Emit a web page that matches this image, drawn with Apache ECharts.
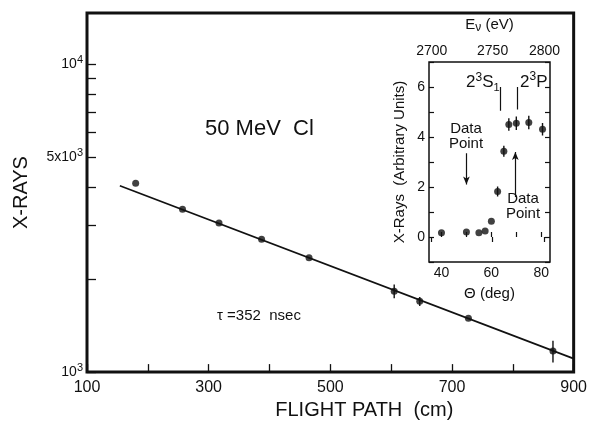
<!DOCTYPE html>
<html>
<head>
<meta charset="utf-8">
<script src="https://cdn.jsdelivr.net/npm/echarts@6/dist/echarts.min.js"></script>
<style>
html, body { margin: 0; padding: 0; background: #fff; }
#main { width: 590px; height: 425px; }
</style>
</head>
<body>
<div id="main"></div>
<script>
// decay curve (main plot)
var flightPath = [180, 257, 317, 387, 465, 605, 647, 727, 866];
var xRays = [4110, 3383, 3054, 2705, 2355, 1833, 1698, 1496, 1170];
var xRaysErr = [0, 0, 0, 0, 0, 95, 57, 0, 95];
var fitPath = [154, 900];
var fitXRays = [4036, 1106];
var countTicks = [1000, 2000, 3000, 4000, 5000, 6000, 7000, 8000, 9000, 10000];
var countLabelValues = [1000, 5000, 10000];
var countLabelText = ['{b|10}{s|3}', '{b|5x10}{s|3}', '{b|10}{s|4}'];

// angular scan (inset)
var theta = [40, 50, 55, 57.5, 60, 62.5, 65, 67, 70, 75, 80.5];
var intensity = [0.17, 0.2, 0.17, 0.24, 0.63, 1.82, 3.43, 4.5, 4.55, 4.58, 4.31];
var intensityErr = [0, 0, 0, 0, 0, 0.2, 0.22, 0.25, 0.27, 0.27, 0.25];
var thetaTicks = [40, 50, 60, 70, 80];
var thetaLabels = [40, 60, 80];
var energyLabels = ['2700', '2750', '2800'];
var energyAtTheta = [36.1, 60.5, 81.3];

var FONT = 'Liberation Sans, Arial, sans-serif';
var INK = '#111';

// superscript styles for rich text
var supRich = {
    b: { fontSize: 14, color: INK, fontFamily: FONT },
    s: { fontSize: 11, color: INK, fontFamily: FONT, verticalAlign: 'bottom', padding: [0, 0, 9, 0] }
};

function pairs(xs, ys) {
    return xs.map(function (x, i) { return [x, ys[i]]; });
}
function errPoints(xs, ys, es) {
    var out = [];
    xs.forEach(function (x, i) {
        if (es[i] > 0) out.push([x, ys[i], es[i]]);
    });
    return out;
}
function errorBar(params, api) {
    var x = api.value(0), y = api.value(1), e = api.value(2);
    var lo = api.coord([x, y - e]);
    var hi = api.coord([x, y + e]);
    return {
        type: 'line',
        shape: { x1: lo[0], y1: lo[1], x2: hi[0], y2: hi[1] },
        style: { stroke: INK, lineWidth: 1.4 }
    };
}

var chart = echarts.init(document.getElementById('main'), null, { renderer: 'canvas' });

var option = {
    backgroundColor: '#fff',
    animation: false,
    textStyle: { fontFamily: FONT, color: INK },
    grid: [
        { left: 87, right: 7, top: 13, bottom: 47, show: true, borderColor: INK, borderWidth: 3 },
        { left: 429, right: 40, top: 62, bottom: 163, show: true, borderColor: INK, borderWidth: 1.5, backgroundColor: '#fff' }
    ],
    xAxis: [
        {
            gridIndex: 0, type: 'value', min: 100, max: 900, interval: 100,
            name: 'FLIGHT PATH  (cm)', nameLocation: 'middle', nameGap: 27,
            nameTextStyle: { fontSize: 20, color: INK, padding: [0, 0, 0, 68] },
            axisLine: { show: false },
            axisTick: { inside: true, length: 8, lineStyle: { color: INK, width: 1.3 } },
            axisLabel: {
                fontSize: 16, color: INK, margin: 7,
                formatter: function (v) { return (v - 100) % 200 === 0 ? String(v) : ''; }
            },
            splitLine: { show: false }
        },
        {
            gridIndex: 1, type: 'value', min: 35, max: 83.5, position: 'bottom',
            name: 'Θ (deg)', nameLocation: 'middle', nameGap: 24,
            nameTextStyle: { fontSize: 15, color: INK },
            axisLine: { show: false },
            axisTick: { inside: true, length: 5, customValues: thetaTicks, lineStyle: { color: INK, width: 1.2 } },
            axisLabel: { fontSize: 14, color: INK, margin: 4, customValues: thetaLabels },
            splitLine: { show: false }
        },
        {
            gridIndex: 1, type: 'value', min: 35, max: 83.5, position: 'top',
            name: '{e|E}{s|ν} (eV)', nameLocation: 'middle', nameGap: 28,
            nameTextStyle: {
                fontSize: 15, color: INK,
                rich: { e: { fontSize: 15, color: INK }, s: { fontSize: 12, color: INK, verticalAlign: 'bottom', padding: [6, 0, 0, 0] } }
            },
            axisLine: { show: false },
            axisTick: { inside: true, length: 5, customValues: energyAtTheta, lineStyle: { color: INK, width: 1.2 } },
            axisLabel: {
                fontSize: 14, color: INK, margin: 4, customValues: energyAtTheta,
                formatter: function (v) {
                    var i = energyAtTheta.indexOf(v);
                    return i >= 0 ? energyLabels[i] : '';
                }
            },
            splitLine: { show: false }
        }
    ],
    yAxis: [
        {
            gridIndex: 0, type: 'log', logBase: 10, min: 1000, max: 14700,
            name: 'X-RAYS', nameLocation: 'middle', nameGap: 56,
            nameTextStyle: { fontSize: 20, color: INK },
            axisLine: { show: false },
            axisTick: { inside: true, length: 9, customValues: countTicks, lineStyle: { color: INK, width: 1.3 } },
            axisLabel: {
                color: INK, margin: 4, customValues: countLabelValues, rich: supRich,
                formatter: function (v) {
                    var i = countLabelValues.indexOf(Math.round(v));
                    return i >= 0 ? countLabelText[i] : '';
                }
            },
            splitLine: { show: false }
        },
        {
            gridIndex: 1, type: 'value', min: -1, max: 7, interval: 1, position: 'left',
            name: 'X-Rays  (Arbitrary Units)', nameLocation: 'middle', nameGap: 22,
            nameTextStyle: { fontSize: 15, color: INK },
            axisLine: { show: false },
            axisTick: { inside: true, length: 5, lineStyle: { color: INK, width: 1.2 } },
            axisLabel: {
                fontSize: 14, color: INK, margin: 4,
                formatter: function (v) { return (v >= 0 && v % 2 === 0) ? String(v) : ''; }
            },
            splitLine: { show: false }
        },
        {
            gridIndex: 1, type: 'value', min: -1, max: 7, interval: 1, position: 'right',
            axisLine: { show: false },
            axisTick: { inside: true, length: 5, lineStyle: { color: INK, width: 1.2 } },
            axisLabel: { show: false },
            splitLine: { show: false }
        }
    ],
    series: [
        {
            type: 'line', xAxisIndex: 0, yAxisIndex: 0,
            data: pairs(fitPath, fitXRays),
            showSymbol: false, silent: true,
            lineStyle: { color: INK, width: 1.7 }
        },
        {
            type: 'custom', xAxisIndex: 0, yAxisIndex: 0,
            data: errPoints(flightPath, xRays, xRaysErr),
            renderItem: errorBar, silent: true
        },
        {
            type: 'scatter', xAxisIndex: 0, yAxisIndex: 0,
            data: pairs(flightPath, xRays),
            symbolSize: 7, itemStyle: { color: INK }
        },
        {
            type: 'custom', xAxisIndex: 1, yAxisIndex: 1,
            data: errPoints(theta, intensity, intensityErr),
            renderItem: errorBar, silent: true
        },
        {
            type: 'scatter', xAxisIndex: 1, yAxisIndex: 1,
            data: pairs(theta, intensity),
            symbolSize: 7, itemStyle: { color: INK },
            markLine: {
                silent: true, animation: false,
                label: { show: false },
                lineStyle: { color: INK, width: 1.2, type: 'solid' },
                symbol: ['none', 'none'],
                data: [
                    [{ coord: [63.6, 6.0] }, { coord: [63.6, 5.05] }],
                    [{ coord: [70.2, 6.0] }, { coord: [70.2, 5.1] }],
                    [{ coord: [50, 3.35] }, { coord: [50, 2.1], symbol: 'arrow', symbolSize: [5, 8] }],
                    [{ coord: [69.6, 1.6] }, { coord: [69.6, 3.4], symbol: 'arrow', symbolSize: [5, 8] }]
                ]
            }
        }
    ],
    graphic: [
        { type: 'text', x: 205, y: 129, style: { text: '50 MeV  Cl', font: '22px ' + FONT, fill: INK, verticalAlign: 'middle' } },
        { type: 'text', x: 217, y: 316, style: { text: 'τ =352  nsec', font: '15px ' + FONT, fill: INK, verticalAlign: 'middle' } },
        { type: 'text', x: 466, y: 121, style: { text: 'Data\nPoint', font: '15px ' + FONT, fill: INK, align: 'center', lineHeight: 15 } },
        { type: 'text', x: 523, y: 191, style: { text: 'Data\nPoint', font: '15px ' + FONT, fill: INK, align: 'center', lineHeight: 15 } },
        {
            type: 'text', x: 466, y: 82,
            style: {
                text: '{b|2}{s|3}{b|S}{d|1}', verticalAlign: 'middle',
                rich: {
                    b: { fontSize: 17, fontFamily: FONT, fill: INK },
                    s: { fontSize: 12, fontFamily: FONT, fill: INK, verticalAlign: 'bottom', padding: [0, 0, 10, 0] },
                    d: { fontSize: 11, fontFamily: FONT, fill: INK, verticalAlign: 'top', padding: [12, 0, 0, 0] }
                }
            }
        },
        {
            type: 'text', x: 520, y: 82,
            style: {
                text: '{b|2}{s|3}{b|P}', verticalAlign: 'middle',
                rich: {
                    b: { fontSize: 17, fontFamily: FONT, fill: INK },
                    s: { fontSize: 12, fontFamily: FONT, fill: INK, verticalAlign: 'bottom', padding: [0, 0, 10, 0] }
                }
            }
        }
    ]
};

chart.setOption(option);
</script>
</body>
</html>
